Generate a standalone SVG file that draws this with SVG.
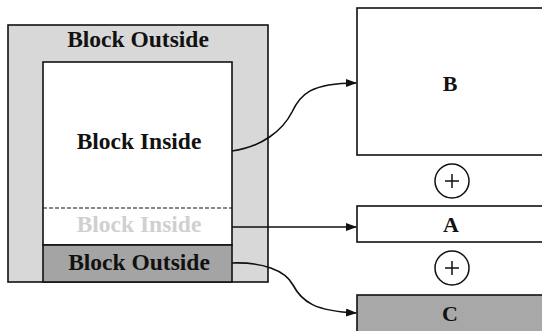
<svg xmlns="http://www.w3.org/2000/svg" width="542" height="331" viewBox="0 0 542 331">
<style>
.lbl{font-family:"Liberation Serif","Times New Roman",serif;font-weight:bold;font-size:23.5px;text-anchor:middle;fill:#111}
.ltr{font-size:22px}
.box{stroke:#111;stroke-width:1.6}
.con{fill:none;stroke:#111;stroke-width:1.6}
</style>
<defs>
<marker id="arr" markerWidth="11" markerHeight="8" refX="10" refY="4" orient="auto" markerUnits="userSpaceOnUse">
<path d="M0,0 L11,4 L0,8 Z" fill="#111"/>
</marker>
</defs>
<rect width="542" height="331" fill="#fff"/>
<g id="outer">
<rect class="box" x="8" y="25" width="260" height="257" fill="#d8d8d8"/>
<text class="lbl" x="138" y="47">Block Outside</text>
</g>
<g id="inner">
<rect class="box" x="43" y="62" width="189" height="183" fill="#fff"/>
<line x1="43" y1="208" x2="232" y2="208" stroke="#111" stroke-width="1.2" stroke-dasharray="4,2"/>
<text class="lbl" x="139" y="149">Block Inside</text>
<text class="lbl" x="139" y="232" style="fill:#d0d0d0">Block Inside</text>
</g>
<g id="bottom">
<rect class="box" x="43" y="245" width="189" height="37" fill="#a4a4a4"/>
<text class="lbl" x="139" y="270">Block Outside</text>
</g>
<g id="B">
<rect class="box" x="357" y="8" width="200" height="147" fill="#fff"/>
<text class="lbl ltr" x="450" y="91">B</text>
</g>
<g id="plus1">
<circle cx="452" cy="181" r="17" fill="#fff" stroke="#111" stroke-width="1.5"/>
<path d="M445,181 H459 M452,174 V188" stroke="#111" stroke-width="1.5"/>
</g>
<g id="A">
<rect class="box" x="357" y="206" width="200" height="36" fill="#fff"/>
<text class="lbl ltr" x="451" y="232">A</text>
</g>
<g id="plus2">
<circle cx="452" cy="268" r="17" fill="#fff" stroke="#111" stroke-width="1.5"/>
<path d="M445,268 H459 M452,261 V275" stroke="#111" stroke-width="1.5"/>
</g>
<g id="C">
<rect class="box" x="357" y="295" width="200" height="50" fill="#a8a8a8"/>
<text class="lbl ltr" x="450" y="321">C</text>
</g>
<g id="connectors">
<path class="con" d="M232,151 C262,147 283,130 292,112 C300,95 310,83 356,83" marker-end="url(#arr)"/>
<path class="con" d="M232,227 H356" marker-end="url(#arr)"/>
<path class="con" d="M232,263 C262,262 285,270 293,285 C302,302 315,311 356,313" marker-end="url(#arr)"/>
</g>
</svg>
